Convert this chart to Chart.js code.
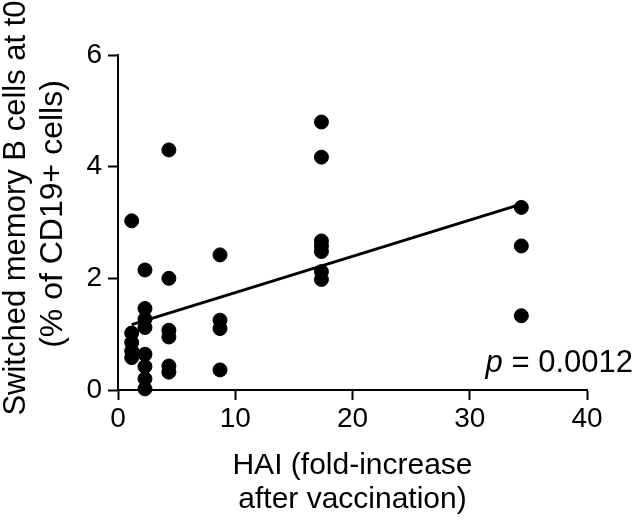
<!DOCTYPE html>
<html>
<head>
<meta charset="utf-8">
<script src="https://cdn.jsdelivr.net/npm/chart.js@4"></script>
<style>
   html, body { margin: 0; padding: 0; background: #fff; }
   #wrap { width: 640px; height: 521px; }
</style>
</head>
<body>
<div id="wrap"><canvas id="chart"></canvas></div>
<script>
// HAI fold-increase (as placed in the figure) and memory B cell %
const haiX = [
   1.17, 1.17, 1.17, 1.17, 1.17,
   2.3, 2.3, 2.3, 2.3, 2.3, 2.3, 2.3, 2.3,
   4.34, 4.34, 4.34, 4.34, 4.34, 4.34,
   8.7, 8.7, 8.7, 8.7,
   17.35, 17.35, 17.35, 17.35, 17.35, 17.35, 17.35,
   34.4, 34.4, 34.4
];
const memB = [
   3.03, 1.02, 0.85, 0.7, 0.58,
   2.15, 1.46, 1.27, 1.12, 0.64, 0.42, 0.2, 0.02,
   4.3, 2.0, 1.07, 0.95, 0.43, 0.32,
   2.42, 1.25, 1.1, 0.36,
   4.8, 4.17, 2.67, 2.58, 2.48, 2.12, 1.98,
   3.27, 2.58, 1.33
];
// fitted line end points
const fitX = [1.17, 34.4];
const fitY = [1.17, 3.33];

const xTicks = [0, 10, 20, 30, 40];
const yTicks = [0, 2, 4, 6];
const yTitle = ['Switched memory B cells at t0', '(% of CD19+ cells)'];
const pText = "0.0012";

const FONT = "'Liberation Sans', Arial, sans-serif";

// y title drawn by hand, the original sits a bit above centre and runs off the top
const yTitlePlugin = {
   id: 'yTitle',
   afterDraw(chart) {
      const ctx = chart.ctx;
      ctx.save();
      ctx.fillStyle = '#000';
      ctx.textAlign = 'center';
      ctx.textBaseline = 'middle';
      const spots = [[16, 208, 31], [53, 214, 32]];
      yTitle.forEach((line, i) => {
         ctx.save();
         ctx.font = `${spots[i][2]}px ${FONT}`;
         ctx.translate(spots[i][0], spots[i][1]);
         ctx.rotate(-Math.PI / 2);
         ctx.fillText(line, 0, 0);
         ctx.restore();
      });
      ctx.restore();
   }
};

// p value annotation
const pValuePlugin = {
   id: 'pValue',
   afterDraw(chart) {
      const ctx = chart.ctx;
      ctx.save();
      ctx.fillStyle = '#000';
      ctx.textBaseline = 'alphabetic';
      ctx.textAlign = 'right';
      ctx.font = `31px ${FONT}`;
      const rest = ` = ${pText}`;
      const right = 633;
      ctx.fillText(rest, right, 372);
      const w = ctx.measureText(rest).width;
      ctx.font = `italic 31px ${FONT}`;
      ctx.fillText('p', right - w, 372);
      ctx.restore();
   }
};

const ctx = document.getElementById('chart').getContext('2d');
new Chart(ctx, {
   type: 'scatter',
   data: {
      datasets: [
         {
            data: haiX.map((x, i) => ({ x: x, y: memB[i] })),
            backgroundColor: '#000',
            borderColor: '#000',
            pointRadius: 7,
            pointHoverRadius: 7,
            clip: false
         },
         {
            type: 'line',
            data: fitX.map((x, i) => ({ x: x, y: fitY[i] })),
            borderColor: '#000',
            borderWidth: 3,
            pointRadius: 0,
            fill: false
         }
      ]
   },
   options: {
      responsive: true,
      maintainAspectRatio: false,
      animation: false,
      layout: { padding: { top: 55, right: 53, left: 0, bottom: 0 } },
      plugins: {
         legend: { display: false },
         tooltip: { enabled: false }
      },
      scales: {
         x: {
            type: 'linear',
            min: 0,
            max: 40,
            afterBuildTicks: (scale) => { scale.ticks = xTicks.map(v => ({ value: v })); },
            afterFit: (scale) => { scale.height = 131; },
            border: { color: '#000', width: 2 },
            grid: { drawOnChartArea: false, color: '#000', tickLength: 10, tickWidth: 2 },
            ticks: { color: '#000', font: { family: FONT, size: 28 }, padding: 2, maxRotation: 0 },
            title: {
               display: true,
               text: ['HAI (fold-increase', 'after vaccination)'],
               color: '#000',
               font: { family: FONT, size: 30, lineHeight: 1.15 },
               padding: { top: 6 }
            }
         },
         y: {
            type: 'linear',
            min: 0,
            max: 6,
            afterBuildTicks: (scale) => { scale.ticks = yTicks.map(v => ({ value: v })); },
            afterFit: (scale) => { scale.width = 118; },
            border: { color: '#000', width: 2 },
            grid: { drawOnChartArea: false, color: '#000', tickLength: 10, tickWidth: 2 },
            ticks: { color: '#000', font: { family: FONT, size: 28 }, padding: 6 },
            title: { display: false }
         }
      }
   },
   plugins: [yTitlePlugin, pValuePlugin]
});
</script>
</body>
</html>
